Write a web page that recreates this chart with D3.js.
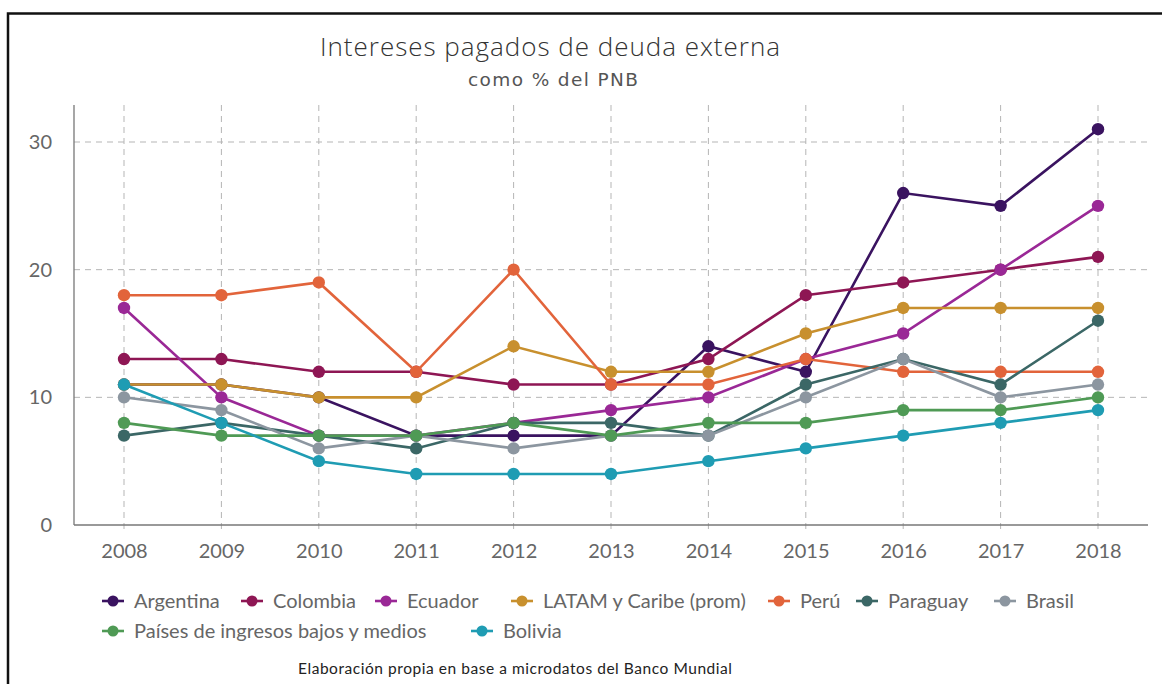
<!DOCTYPE html>
<head>
  <meta charset="utf-8">
  <script src="https://d3js.org/d3.v7.min.js"></script>
  <style>
    body { margin: 0; background: #fff; }
    text { font-family: Lato, "Open Sans", sans-serif; }
  </style>
</head>
<body>
<script>
  // years on the x axis
  var years = [2008, 2009, 2010, 2011, 2012, 2013, 2014, 2015, 2016, 2017, 2018];
  var yTicks = [0, 10, 20, 30];

  // series names, in legend / drawing order
  var names = ["Argentina", "Colombia", "Ecuador", "LATAM y Caribe (prom)", "Perú",
    "Paraguay", "Brasil", "Países de ingresos bajos y medios", "Bolivia"];
  var colors = ["#3a1360", "#8e1654", "#9a2896", "#c8902e", "#e2643b",
    "#3b6766", "#8c96a0", "#4f9a55", "#1f9cb3"];

  // values, % of GNP
  var argentina = [11, 11, 10, 7, 7, 7, 14, 12, 26, 25, 31];
  var colombia = [13, 13, 12, 12, 11, 11, 13, 18, 19, 20, 21];
  var ecuador = [17, 10, 7, 7, 8, 9, 10, 13, 15, 20, 25];
  var latam = [11, 11, 10, 10, 14, 12, 12, 15, 17, 17, 17];
  var peru = [18, 18, 19, 12, 20, 11, 11, 13, 12, 12, 12];
  var paraguay = [7, 8, 7, 6, 8, 8, 7, 11, 13, 11, 16];
  var brasil = [10, 9, 6, 7, 6, 7, 7, 10, 13, 10, 11];
  var paises = [8, 7, 7, 7, 8, 7, 8, 8, 9, 9, 10];
  var bolivia = [11, 8, 5, 4, 4, 4, 5, 6, 7, 8, 9];

  var seriesValues = [argentina, colombia, ecuador, latam, peru, paraguay, brasil, paises, bolivia];

  var width = 1162, height = 684;

  var svg = d3.select("body").append("svg")
    .attr("width", width)
    .attr("height", height);

  // outer frame (top and left edges visible)
  svg.append("path")
    .attr("d", "M8,684 L8,13.5 L1162,13.5")
    .attr("fill", "none")
    .attr("stroke", "#111")
    .attr("stroke-width", 2.5);

  var xScale = d3.scaleLinear().domain([2008, 2018]).range([124, 1098]);
  var yScale = d3.scaleLinear().domain([0, 30]).range([525, 142]);
  var plotLeft = 74, plotRight = 1150, plotTop = 105;

  // title
  svg.append("text")
    .attr("x", 320).attr("y", 56)
    .attr("font-size", 26)
    .attr("font-weight", 300)
    .attr("fill", "#333")
    .attr("textLength", 460)
    .attr("lengthAdjust", "spacing")
    .style("font-family", "'Open Sans', sans-serif")
    .text("Intereses pagados de deuda externa");

  svg.append("text")
    .attr("x", 468).attr("y", 86)
    .attr("font-size", 18.5)
    .attr("fill", "#555")
    .attr("textLength", 170)
    .attr("lengthAdjust", "spacing")
    .style("font-family", "'DejaVu Sans', sans-serif")
    .text("como % del PNB");

  // grid
  var grid = svg.append("g");
  grid.selectAll(".vgrid")
    .data(years)
    .enter().append("line")
    .attr("x1", function(d) { return xScale(d); })
    .attr("x2", function(d) { return xScale(d); })
    .attr("y1", plotTop)
    .attr("y2", yScale(0) + 6)
    .attr("stroke", "#b5b5b5")
    .attr("stroke-dasharray", "6,5");

  grid.selectAll(".hgrid")
    .data(yTicks.filter(function(d) { return d > 0; }))
    .enter().append("line")
    .attr("x1", plotLeft)
    .attr("x2", plotRight)
    .attr("y1", function(d) { return yScale(d); })
    .attr("y2", function(d) { return yScale(d); })
    .attr("stroke", "#b5b5b5")
    .attr("stroke-dasharray", "6,5");

  // axes
  var yAxis = d3.axisLeft(yScale).tickValues(yTicks).tickSize(0).tickPadding(22);
  var yAxisG = svg.append("g")
    .attr("transform", "translate(" + plotLeft + ",0)")
    .call(yAxis);
  yAxisG.select(".domain").remove();
  yAxisG.append("line")
    .attr("x1", 0).attr("x2", 0)
    .attr("y1", plotTop).attr("y2", yScale(0))
    .attr("stroke", "#777").attr("stroke-width", 1.3);
  yAxisG.selectAll("text")
    .attr("font-size", 20)
    .attr("fill", "#666")
    .style("font-family", "Lato, sans-serif");

  var xAxis = d3.axisBottom(xScale).tickValues(years).tickFormat(d3.format("d")).tickSize(0).tickPadding(19);
  var xAxisG = svg.append("g")
    .attr("transform", "translate(0," + yScale(0) + ")")
    .call(xAxis);
  xAxisG.select(".domain").remove();
  xAxisG.append("line")
    .attr("x1", plotLeft).attr("x2", 1148)
    .attr("y1", 0).attr("y2", 0)
    .attr("stroke", "#777").attr("stroke-width", 1.3);
  xAxisG.selectAll("text")
    .attr("font-size", 20)
    .attr("fill", "#666")
    .style("font-family", "Lato, sans-serif");

  // lines
  var line = d3.line()
    .x(function(d, i) { return xScale(years[i]); })
    .y(function(d) { return yScale(d); });

  seriesValues.forEach(function(vals, s) {
    var g = svg.append("g");
    g.append("path")
      .datum(vals)
      .attr("d", line)
      .attr("fill", "none")
      .attr("stroke", colors[s])
      .attr("stroke-width", 2.6);
    g.selectAll("circle")
      .data(vals)
      .enter().append("circle")
      .attr("cx", function(d, i) { return xScale(years[i]); })
      .attr("cy", function(d) { return yScale(d); })
      .attr("r", 6.2)
      .attr("fill", colors[s]);
  });

  // legend: marker x position of each entry, two rows
  var legendX = [113, 252, 386, 522, 779, 867, 1005, 113, 482];
  var legendRow = [0, 0, 0, 0, 0, 0, 0, 1, 1];
  var legend = svg.append("g");
  names.forEach(function(name, s) {
    var x = legendX[s];
    var y = 601 + legendRow[s] * 30;
    var item = legend.append("g");
    item.append("line")
      .attr("x1", x - 11).attr("x2", x + 11)
      .attr("y1", y).attr("y2", y)
      .attr("stroke", colors[s]).attr("stroke-width", 2.6);
    item.append("circle")
      .attr("cx", x).attr("cy", y).attr("r", 5.5)
      .attr("fill", colors[s]);
    item.append("text")
      .attr("x", x + 21).attr("y", y + 7)
      .attr("font-size", 20)
      .attr("fill", "#666")
      .text(name);
  });

  // source note
  svg.append("text")
    .attr("x", 298).attr("y", 674)
    .attr("font-size", 15.5)
    .attr("fill", "#222")
    .attr("textLength", 434)
    .attr("lengthAdjust", "spacing")
    .text("Elaboración propia en base a microdatos del Banco Mundial");
</script>
</body>
